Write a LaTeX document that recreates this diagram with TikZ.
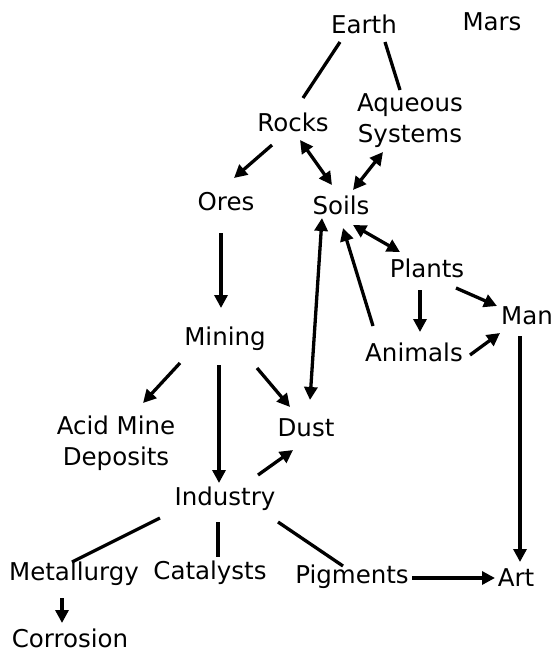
\documentclass[tikz,border=0pt]{standalone}
\usepackage{fontspec}
\setmainfont{DejaVu Sans}
\usetikzlibrary{arrows.meta}
\tikzset{
  lbl/.style={font=\fontsize{24.5}{31}\selectfont, inner sep=0pt, align=center},
  conn/.style={line width=3.3pt},
  arr/.style={conn, -{Triangle[length=13pt,width=13pt]}},
  dbl/.style={conn, {Triangle[length=13pt,width=13pt]}-{Triangle[length=13pt,width=13pt]}}
}
\begin{document}
\begin{tikzpicture}[x=1pt,y=-1pt]
\useasboundingbox (0,0) rectangle (553,651);
\node[lbl] (earth) at (364,24) {Earth};
\node[lbl] (mars) at (492,22) {Mars};
\node[lbl] (rocks) at (293,122) {Rocks};
\node[lbl] (aq) at (410,121) {Aqueous\\Systems};
\node[lbl] (ores) at (226,202) {Ores};
\node[lbl] (soils) at (341,205) {Soils};
\node[lbl] (plants) at (427,268) {Plants};
\node[lbl] (man) at (527,316) {Man};
\node[lbl] (animals) at (414,352) {Animals};
\node[lbl] (mining) at (225,339) {Mining};
\node[lbl] (acid) at (116,443) {Acid Mine\\Deposits};
\node[lbl] (dust) at (306,428) {Dust};
\node[lbl] (industry) at (225,499) {Industry};
\node[lbl] (metal) at (74,574) {Metallurgy};
\node[lbl] (cat) at (210,573) {Catalysts};
\node[lbl] (pig) at (352,577) {Pigments};
\node[lbl] (art) at (516,578) {Art};
\node[lbl] (corr) at (70,638) {Corrosion};

\draw[conn] ([shift={(-24,18)}]earth.center) -- ([shift={(10,-24)}]rocks.center);
\draw[conn] ([shift={(21,18)}]earth.center) -- ([shift={(-10,-31)}]aq.center);
\draw[arr] ([shift={(-21,23)}]rocks.center) -- ([shift={(8,-24)}]ores.center);
\draw[dbl] ([shift={(7,18)}]rocks.center) -- ([shift={(-9,-20)}]soils.center);
\draw[dbl] ([shift={(-27,31)}]aq.center) -- ([shift={(12,-15)}]soils.center);
\draw[dbl] ([shift={(12,20)}]soils.center) -- ([shift={(-27,-16)}]plants.center);
\draw[dbl] ([shift={(4,-28)}]dust.center) -- ([shift={(-19,13)}]soils.center);
\draw[arr] ([shift={(-41,-26)}]animals.center) -- ([shift={(2,23)}]soils.center);
\draw[arr] ([shift={(-5,31)}]ores.center) -- ([shift={(-4,-31)}]mining.center);
\draw[arr] ([shift={(-45,24)}]mining.center) -- ([shift={(27,-40)}]acid.center);
\draw[arr] ([shift={(-6,26)}]mining.center) -- ([shift={(-6,-16)}]industry.center);
\draw[arr] ([shift={(32,29)}]mining.center) -- ([shift={(-16,-21)}]dust.center);
\draw[arr] ([shift={(33,-24)}]industry.center) -- ([shift={(-13,22)}]dust.center);
\draw[arr] ([shift={(-7,22)}]plants.center) -- ([shift={(6,-20)}]animals.center);
\draw[arr] ([shift={(29,20)}]plants.center) -- ([shift={(-30,-10)}]man.center);
\draw[arr] ([shift={(56,3)}]animals.center) -- ([shift={(-27,17)}]man.center);
\draw[arr] ([shift={(-7,20)}]man.center) -- ([shift={(4,-16)}]art.center);
\draw[conn] ([shift={(-65,19)}]industry.center) -- ([shift={(-2,-12)}]metal.center);
\draw[conn] ([shift={(-7,23)}]industry.center) -- ([shift={(8,-16)}]cat.center);
\draw[conn] ([shift={(53,23)}]industry.center) -- ([shift={(-9,-11)}]pig.center);
\draw[arr] ([shift={(60,1)}]pig.center) -- ([shift={(-21,0)}]art.center);
\draw[arr] ([shift={(-12,24)}]metal.center) -- ([shift={(-8,-15)}]corr.center);
\end{tikzpicture}
\end{document}
